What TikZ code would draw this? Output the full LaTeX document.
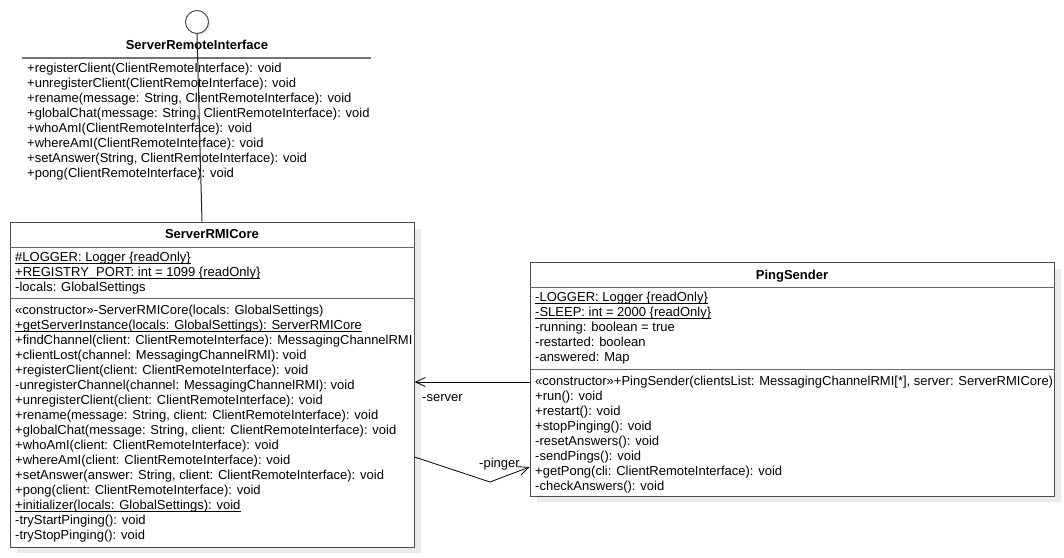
\documentclass[tikz,border=0pt]{standalone}
\usepackage{fontspec}
\setmainfont{Liberation Sans}
\usetikzlibrary{arrows.meta}
\newcommand\myul[1]{\setbox0\hbox{#1}\rlap{\rule[-2.4pt]{\wd0}{0.8pt}}\box0}
\begin{document}
\begin{tikzpicture}[x=1pt,y=-1pt,
  every node/.style={font=\fontsize{13}{15}\selectfont},
  txt/.style={anchor=west, inner sep=0pt, text height=9.5pt, text depth=2.5pt},
  ttl/.style={anchor=center, inner sep=0pt, text height=9.5pt, text depth=2.5pt, font=\fontsize{13}{15}\selectfont\bfseries},
  umlbox/.style={draw=black!70, line width=1pt, fill=white, inner sep=0pt},
  sepline/.style={draw=black!60, line width=1pt},
  shade/.style={fill=black!8, draw=none},
  assoc/.style={draw=black, line width=0.8pt, -{Straight Barb[length=10pt,width=9pt]}},
  lbl/.style={anchor=west, inner sep=0pt, text height=9.5pt, text depth=2.5pt}
]
\useasboundingbox (0,0) rectangle (1064,557);
\fill[white] (0,0) rectangle (1064,557);

% ---------- interface (lollipop) ----------
\fill[shade] (199,24) circle (11.5);
\node[draw=black!70, line width=1pt, fill=white, circle, minimum size=23pt, inner sep=0pt] (iface) at (197,22) {};
\node[ttl] (ifacename) at (197,46) {ServerRemoteInterface};
\draw[draw=black!55, line width=1.3pt] (22,58) coordinate (ul1) -- (371,58) coordinate (ul2);
\node[txt] (i1) at (27,69)  {+registerClient(ClientRemoteInterface): void};
\node[txt] (i2) at (27,84)  {+unregisterClient(ClientRemoteInterface): void};
\node[txt] (i3) at (27,99)  {+rename(message: String, ClientRemoteInterface): void};
\node[txt] (i4) at (27,114) {+globalChat(message: String, ClientRemoteInterface): void};
\node[txt] (i5) at (27,129) {+whoAmI(ClientRemoteInterface): void};
\node[txt] (i6) at (27,144) {+whereAmI(ClientRemoteInterface): void};
\node[txt] (i7) at (27,159) {+setAnswer(String, ClientRemoteInterface): void};
\node[txt] (i8) at (27,174) {+pong(ClientRemoteInterface): void};

% ---------- ServerRMICore ----------
\fill[shade] (17,229) rectangle (421,553);
\node[umlbox, minimum width=404pt, minimum height=325pt] (core) at (212,384.5) {};
\draw[sepline] (core.west |- 0,247) -- (core.east |- 0,247);
\draw[sepline] (core.west |- 0,298) -- (core.east |- 0,298);
\node[ttl] (coretitle) at (212,234.5) {ServerRMICore};
\node[txt] (ca1) at (15,257.5) {\myul{\#LOGGER: Logger \{readOnly\}}};
\node[txt] (ca2) at (15,272.5) {\myul{+REGISTRY\_PORT: int = 1099 \{readOnly\}}};
\node[txt] (ca3) at (15,287.5) {-locals: GlobalSettings};
\node[txt] (cm1)  at (15,310.5) {«constructor»-ServerRMICore(locals: GlobalSettings)};
\node[txt] (cm2)  at (15,325.5) {\myul{+getServerInstance(locals: GlobalSettings): ServerRMICore}};
\node[txt] (cm3)  at (15,340.5) {+findChannel(client: ClientRemoteInterface): MessagingChannelRMI};
\node[txt] (cm4)  at (15,355.5) {+clientLost(channel: MessagingChannelRMI): void};
\node[txt] (cm5)  at (15,370.5) {+registerClient(client: ClientRemoteInterface): void};
\node[txt] (cm6)  at (15,385.5) {-unregisterChannel(channel: MessagingChannelRMI): void};
\node[txt] (cm7)  at (15,400.5) {+unregisterClient(client: ClientRemoteInterface): void};
\node[txt] (cm8)  at (15,415.5) {+rename(message: String, client: ClientRemoteInterface): void};
\node[txt] (cm9)  at (15,430.5) {+globalChat(message: String, client: ClientRemoteInterface): void};
\node[txt] (cm10) at (15,445.5) {+whoAmI(client: ClientRemoteInterface): void};
\node[txt] (cm11) at (15,460.5) {+whereAmI(client: ClientRemoteInterface): void};
\node[txt] (cm12) at (15,475.5) {+setAnswer(answer: String, client: ClientRemoteInterface): void};
\node[txt] (cm13) at (15,490.5) {+pong(client: ClientRemoteInterface): void};
\node[txt] (cm14) at (15,505.5) {\myul{+initializer(locals: GlobalSettings): void}};
\node[txt] (cm15) at (15,520.5) {-tryStartPinging(): void};
\node[txt] (cm16) at (15,535.5) {-tryStopPinging(): void};

% ---------- PingSender ----------
\fill[shade] (537,269) rectangle (1061,502);
\node[umlbox, minimum width=524pt, minimum height=234pt] (ping) at (792,379) {};
\draw[sepline] (ping.west |- 0,287) -- (ping.east |- 0,287);
\draw[sepline] (ping.west |- 0,369) -- (ping.east |- 0,369);
\node[ttl] (pingtitle) at (792,275.5) {PingSender};
\node[txt] (pa1) at (535,298) {\myul{-LOGGER: Logger \{readOnly\}}};
\node[txt] (pa2) at (535,313) {\myul{-SLEEP: int = 2000 \{readOnly\}}};
\node[txt] (pa3) at (535,328) {-running: boolean = true};
\node[txt] (pa4) at (535,343) {-restarted: boolean};
\node[txt] (pa5) at (535,358) {-answered: Map};
\node[txt] (pm1) at (535,382) {«constructor»+PingSender(clientsList: MessagingChannelRMI[*], server: ServerRMICore)};
\node[txt] (pm2) at (535,397) {+run(): void};
\node[txt] (pm3) at (535,412) {+restart(): void};
\node[txt] (pm4) at (535,427) {+stopPinging(): void};
\node[txt] (pm5) at (535,442) {-resetAnswers(): void};
\node[txt] (pm6) at (535,457) {-sendPings(): void};
\node[txt] (pm7) at (535,472) {+getPong(cli: ClientRemoteInterface): void};
\node[txt] (pm8) at (535,487) {-checkAnswers(): void};

% ---------- connectors ----------
\draw[black!85, line width=1pt] (iface.south) -- (core.north -| 202,0);
\draw[assoc] (ping.west |- 0,382) -- (core.east |- 0,382);
\node[lbl] (lserver) at (422,398) {-server};
\coordinate (bend) at (490,482);
\draw[assoc] (core.east |- 0,457) -- (bend) -- (ping.west |- 0,467);
\node[lbl] (lpinger) at (479,464) {-pinger};
\end{tikzpicture}
\end{document}
